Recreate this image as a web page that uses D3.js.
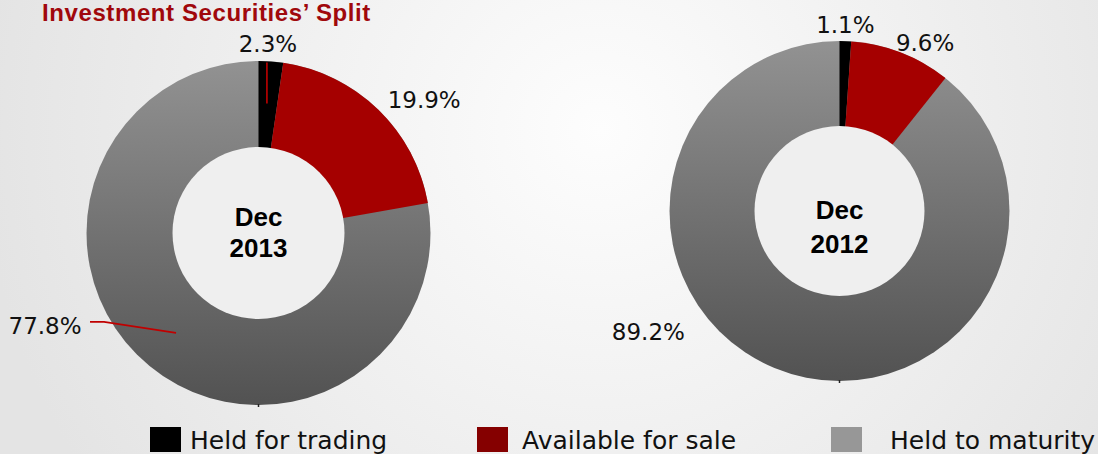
<!DOCTYPE html>
<html>
<head>
<meta charset="utf-8">
<script src="https://cdn.jsdelivr.net/npm/d3@7"></script>
<style>
  body { margin: 0; overflow: hidden; }
  svg { display: block; }
  .lbl { font-family: "Century Gothic", "DejaVu Sans", sans-serif; font-size: 23px; fill: #111; }
  .ctr { font-family: "Liberation Sans", Arial, sans-serif; font-weight: bold; font-size: 26px; fill: #000; }
  .leg { font-family: "Century Gothic", "DejaVu Sans", sans-serif; font-size: 25px; fill: #111; }
</style>
</head>
<body>
<svg width="1098" height="454"></svg>
<script>
// data
var categories = ["Held for trading", "Available for sale", "Held to maturity"];
var periods = ["Dec 2013", "Dec 2012"];
var values2013 = [2.3, 19.9, 77.8];
var values2012 = [1.1, 9.6, 89.2];

var svg = d3.select("svg"),
    width = +svg.attr("width"),
    height = +svg.attr("height");

var defs = svg.append("defs");

// background
var bg = defs.append("radialGradient").attr("id", "bg")
    .attr("gradientUnits", "userSpaceOnUse")
    .attr("cx", 600).attr("cy", 130).attr("r", 620);
bg.append("stop").attr("offset", "0%").attr("stop-color", "#fdfdfd");
bg.append("stop").attr("offset", "100%").attr("stop-color", "#e4e4e4");
svg.append("rect").attr("width", width).attr("height", height).attr("fill", "url(#bg)");

var sliceColors = ["#000000", "#a50000", "url(#grayfill)"];
var legendColors = ["#000000", "#850000", "#979797"];

// layout of the two donuts
var donuts = [
  { id: "d13", values: values2013, label: periods[0], cx: 258.5, cy: 233, r: 172,
    textDy: [-7, 24],
    labelOff: [[-3, -9], [46, -1], [-103, -31]],
    leaders: [[[-4, 1], [-4, 42]], null, [[-58, -43], [-44, -43], [28, -32]]] },
  { id: "d12", values: values2012, label: periods[1], cx: 839.5, cy: 211, r: 170,
    textDy: [8, 42],
    labelOff: [[0, -8], [24, -2], [-135, -31]],
    leaders: [null, null, null] }
];

var g0 = defs.append("linearGradient").attr("id", "grayfill")
    .attr("x1", 0).attr("y1", 0).attr("x2", 0).attr("y2", 1);
g0.append("stop").attr("offset", "0%").attr("stop-color", "#929292");
g0.append("stop").attr("offset", "100%").attr("stop-color", "#525252");

var pie = d3.pie().sort(null).value(function(d) { return d; });

donuts.forEach(function(dn) {
  var arc = d3.arc().innerRadius(0).outerRadius(dn.r);
  var g = svg.append("g").attr("transform", "translate(" + dn.cx + "," + dn.cy + ")");
  var arcs = pie(dn.values);

  // gray ring drawn as one shape so the gradient spans the full donut
  g.append("circle").attr("r", dn.r).attr("fill", "url(#grayfill)");

  g.selectAll("path.slice")
    .data(arcs.slice(0, 2))
    .enter().append("path")
      .attr("class", "slice")
      .attr("d", arc)
      .attr("fill", function(d, i) { return sliceColors[i]; });

  // hole
  g.append("circle").attr("r", dn.r * 0.5).attr("fill", "#efefef");

  // tiny tick at the bottom
  g.append("line").attr("x1", 0).attr("x2", 0).attr("y1", dn.r - 1).attr("y2", dn.r + 2)
    .attr("stroke", "#222").attr("stroke-width", 1.5);

  // leader lines
  arcs.forEach(function(a, i) {
    var ld = dn.leaders[i];
    if (!ld) return;
    var mid = (a.startAngle + a.endAngle) / 2;
    var px = dn.r * Math.sin(mid), py = -dn.r * Math.cos(mid);
    g.append("path")
      .attr("d", d3.line()(ld.map(function(p) { return [px + p[0], py + p[1]]; })))
      .attr("fill", "none").attr("stroke", "#c00000").attr("stroke-width", 1.6);
  });

  // value labels
  arcs.forEach(function(a, i) {
    var mid = (a.startAngle + a.endAngle) / 2;
    var px = dn.r * Math.sin(mid), py = -dn.r * Math.cos(mid);
    g.append("text").attr("class", "lbl")
      .attr("x", px + dn.labelOff[i][0])
      .attr("y", py + dn.labelOff[i][1])
      .attr("text-anchor", "middle")
      .text(d3.format(".1f")(a.data) + "%");
  });

  // centre text
  var parts = dn.label.split(" ");
  g.selectAll("text.ctr").data(parts).enter().append("text")
    .attr("class", "ctr")
    .attr("text-anchor", "middle")
    .attr("y", function(d, i) { return dn.textDy[i]; })
    .text(function(d) { return d; });
});

// title
svg.append("text")
  .attr("x", 42).attr("y", 21)
  .style("font-family", "\"Century Gothic\", \"Liberation Sans\", Arial, sans-serif")
  .style("font-weight", "bold")
  .style("font-size", "24px")
  .style("letter-spacing", "0.6px")
  .style("fill", "#a0080c")
  .text("Investment Securities\u2019 Split");

// legend
var legX = [150, 477, 831];
var legTextX = [190, 522, 890];
var leg = svg.append("g").attr("class", "legend");
categories.forEach(function(c, i) {
  leg.append("rect").attr("x", legX[i]).attr("y", 427).attr("width", 31).attr("height", 25)
    .attr("fill", legendColors[i]);
  leg.append("text").attr("class", "leg").attr("x", legTextX[i]).attr("y", 449).text(c);
});
</script>
</body>
</html>
